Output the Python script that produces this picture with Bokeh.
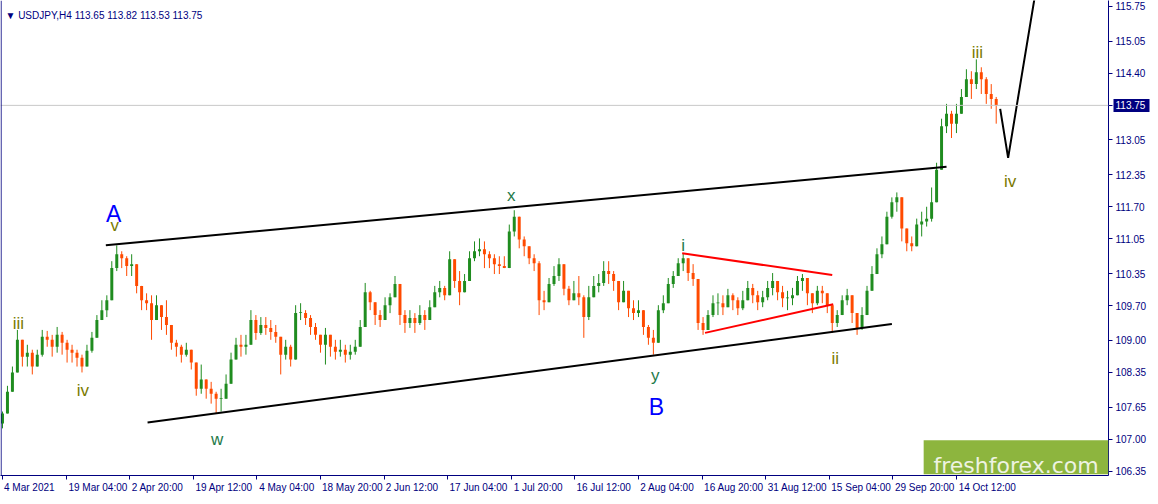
from bokeh.plotting import figure
from bokeh.models import (FixedTicker, Span, Label, BoxAnnotation, ColumnDataSource,
                          PrintfTickFormatter, LinearAxis)
from bokeh.embed import file_html
from bokeh.resources import INLINE

# ---------------- data (USDJPY H4, sampled every 5 bars) ----------------
first_bar = 3
bar_step = 5
first_open = 107.32
closes = [
    107.52, 107.96, 108.35, 109.01, 108.67, 108.75, 108.47, 108.71, 109.07, 109.01,
    108.87, 109.11, 108.95, 108.81, 108.75, 108.65, 108.47, 108.79, 109.05, 109.41,
    109.61, 109.81, 110.46, 110.74, 110.66, 110.50, 110.54, 110.10, 109.81, 109.75,
    109.41, 109.71, 109.47, 109.31, 108.95, 108.87, 108.71, 108.81, 108.55, 108.02,
    108.21, 108.02, 107.92, 107.82, 107.82, 108.12, 108.61, 108.91, 108.87, 108.91,
    109.41, 109.15, 109.31, 109.25, 109.17, 109.07, 108.71, 108.87, 108.61, 109.55,
    109.55, 109.45, 109.27, 109.11, 108.91, 109.11, 108.87, 108.77, 108.81, 108.71,
    108.77, 108.87, 109.27, 109.97, 109.77, 109.51, 109.41, 109.71, 109.87, 110.14,
    109.51, 109.35, 109.45, 109.35, 109.51, 109.41, 109.67, 109.97, 110.06, 109.91,
    110.64, 110.20, 109.97, 110.20, 110.66, 110.80, 110.84, 110.74, 110.66, 110.54,
    110.50, 110.46, 111.20, 111.50, 111.04, 110.90, 110.66, 110.56, 109.81, 109.77,
    110.14, 110.30, 110.54, 110.04, 109.81, 109.95, 109.87, 109.47, 109.87, 110.10,
    110.16, 110.40, 110.34, 110.20, 109.77, 110.00, 109.65, 109.55, 109.61, 109.27,
    109.05, 108.95, 109.61, 109.75, 110.14, 110.30, 110.56, 110.66, 110.36, 110.24,
    109.35, 109.21, 109.51, 109.75, 109.75, 109.67, 109.91, 109.81, 109.65, 109.81,
    110.06, 109.91, 109.77, 109.87, 110.06, 110.20, 109.97, 109.85, 109.85, 109.91,
    110.20, 110.26, 109.95, 109.75, 110.00, 109.95, 109.71, 109.35, 109.51, 109.81,
    109.91, 109.55, 109.25, 109.51, 110.00, 110.34, 110.74, 110.94, 111.50, 111.79,
    111.89, 111.26, 110.96, 110.90, 111.34, 111.40, 111.46, 111.79, 112.45, 113.33,
    113.58, 113.38, 113.58, 113.92, 114.28, 114.18, 114.42, 114.28, 113.98, 113.88,
    113.75,
]
highs = [
    107.56, 108.08, 108.47, 109.21, 109.01, 108.91, 108.81, 108.81, 109.21, 109.19,
    109.11, 109.27, 109.17, 109.01, 108.91, 108.81, 108.71, 108.91, 109.17, 109.51,
    109.81, 109.91, 110.60, 110.92, 110.80, 110.70, 110.74, 110.50, 110.00, 109.95,
    109.91, 109.91, 109.71, 109.81, 109.31, 109.01, 108.91, 108.95, 108.81, 108.51,
    108.51, 108.21, 108.16, 107.96, 108.02, 108.31, 108.75, 109.05, 109.11, 109.11,
    109.61, 109.51, 109.47, 109.47, 109.41, 109.31, 109.01, 109.01, 108.91, 109.71,
    109.75, 109.61, 109.51, 109.35, 109.11, 109.25, 109.11, 109.01, 109.01, 108.91,
    108.91, 109.01, 109.41, 110.16, 110.00, 109.67, 109.61, 109.87, 109.95, 110.30,
    109.91, 109.61, 109.61, 109.55, 109.71, 109.61, 109.81, 110.10, 110.20, 110.10,
    110.80, 110.60, 110.40, 110.34, 110.80, 111.00, 111.06, 111.00, 110.80, 110.74,
    110.70, 110.70, 111.34, 111.63, 111.40, 111.10, 110.90, 110.74, 110.60, 110.00,
    110.26, 110.50, 110.66, 110.50, 110.10, 110.20, 110.30, 109.91, 110.10, 110.30,
    110.34, 110.60, 110.60, 110.40, 110.20, 110.20, 109.91, 109.81, 109.81, 109.55,
    109.31, 109.21, 109.71, 109.91, 110.26, 110.40, 110.66, 110.76, 110.60, 110.54,
    110.10, 109.47, 109.61, 109.91, 109.95, 109.91, 110.04, 109.95, 109.87, 110.00,
    110.20, 110.14, 110.00, 110.00, 110.20, 110.36, 110.20, 110.10, 110.00, 110.06,
    110.30, 110.34, 110.14, 109.95, 110.10, 110.10, 109.91, 109.55, 109.61, 109.91,
    110.04, 109.81, 109.51, 109.67, 110.10, 110.50, 110.86, 111.10, 111.60, 111.89,
    111.99, 111.70, 111.20, 111.10, 111.46, 111.60, 111.70, 112.09, 112.59, 113.48,
    113.78, 113.64, 113.78, 114.08, 114.48, 114.44, 114.68, 114.52, 114.32, 114.18,
    113.92,
]
lows = [
    107.22, 107.68, 108.08, 108.67, 108.47, 108.47, 108.31, 108.47, 108.67, 108.87,
    108.67, 108.75, 108.71, 108.55, 108.55, 108.47, 108.35, 108.47, 108.75, 109.11,
    109.41, 109.47, 109.91, 110.40, 110.46, 110.30, 110.30, 109.95, 109.61, 109.61,
    109.01, 109.41, 109.21, 109.11, 108.81, 108.67, 108.55, 108.67, 108.41, 107.88,
    107.92, 107.82, 107.72, 107.52, 107.56, 107.82, 108.21, 108.61, 108.67, 108.71,
    109.01, 109.01, 109.11, 109.11, 109.01, 108.95, 108.31, 108.61, 108.47, 108.71,
    109.41, 109.31, 109.11, 109.01, 108.75, 108.51, 108.67, 108.61, 108.67, 108.55,
    108.61, 108.71, 109.01, 109.61, 109.61, 109.31, 109.27, 109.47, 109.55, 109.91,
    109.31, 109.15, 109.25, 109.15, 109.31, 109.21, 109.47, 109.71, 109.87, 109.81,
    109.91, 110.06, 109.71, 110.00, 110.30, 110.60, 110.70, 110.46, 110.46, 110.34,
    110.34, 110.46, 110.46, 111.10, 110.86, 110.70, 110.54, 110.40, 109.51, 109.61,
    109.91, 110.10, 110.20, 109.91, 109.71, 109.81, 109.71, 109.05, 109.41, 109.91,
    109.97, 110.10, 110.14, 110.00, 109.61, 109.81, 109.47, 109.41, 109.47, 109.11,
    108.91, 108.71, 109.01, 109.55, 109.87, 110.06, 110.34, 110.40, 110.20, 110.10,
    109.21, 109.11, 109.21, 109.47, 109.51, 109.51, 109.67, 109.61, 109.51, 109.61,
    109.81, 109.75, 109.61, 109.67, 109.81, 109.91, 109.81, 109.67, 109.61, 109.71,
    109.95, 110.00, 109.71, 109.55, 109.71, 109.75, 109.55, 109.15, 109.27, 109.55,
    109.71, 109.35, 109.11, 109.21, 109.71, 110.10, 110.46, 110.66, 111.10, 111.46,
    111.60, 111.00, 110.80, 110.80, 110.90, 111.10, 111.30, 111.40, 111.89, 112.59,
    113.19, 113.09, 113.19, 113.64, 113.98, 113.88, 114.08, 113.98, 113.78, 113.68,
    113.38,
]

x_tick_bars = [3, 67, 131, 195, 259, 323, 387, 451, 515, 579, 643, 707, 771, 835, 899, 963]
x_tick_labels = ["4 Mar 2021", "19 Mar 04:00", "2 Apr 20:00", "19 Apr 12:00", "4 May 04:00",
                 "18 May 20:00", "2 Jun 12:00", "17 Jun 04:00", "1 Jul 20:00", "16 Jul 12:00",
                 "2 Aug 04:00", "16 Aug 20:00", "31 Aug 12:00", "15 Sep 04:00",
                 "29 Sep 20:00", "14 Oct 12:00"]
y_ticks = [106.35, 107.00, 107.65, 108.35, 109.00, 109.70, 110.35, 111.05,
           111.70, 112.35, 113.05, 113.75, 114.40, 115.05, 115.75]
last_price = 113.75
title_text = "\u25BC USDJPY,H4  113.65 113.82 113.53 113.75"

# trend lines (bar, price)
upper_channel_x = [107, 953]
upper_channel_y = [110.92, 112.51]
lower_channel_x = [149, 898]
lower_channel_y = [107.34, 109.33]
tri_upper_x = [687, 838]
tri_upper_y = [110.76, 110.32]
tri_lower_x = [710, 839]
tri_lower_y = [109.15, 109.73]
proj_x = [1007, 1015, 1042]
proj_y = [113.68, 112.69, 115.97]

# wave labels
wave_text = ["A", "v", "iii", "iv", "w", "x", "y", "B", "i", "ii", "iii", "iv"]
wave_bar = [115, 116, 19, 84, 219, 515, 660, 661, 688, 841, 984, 1017]
wave_price = [111.56, 111.32, 109.33, 107.98, 107.00, 111.93, 108.28, 107.66, 110.92, 108.63, 114.82, 112.21]
wave_kind = ["big", "olive", "olive", "olive", "green", "green", "green", "big", "green", "olive", "olive", "olive"]

# ---------------- figure ----------------
NAVY = "#000080"
FONT = "Liberation Sans"
UP = "#1f8c1f"
DOWN = "#ff4a00"
Y0, Y1 = 106.267, 115.87
X0, X1 = 1, 1116
FRAME_W = 1108

p = figure(width=1150, height=496, x_range=(X0, X1), y_range=(Y0, Y1),
           y_axis_location="right", output_backend="svg", toolbar_location=None,
           min_border_left=0, min_border_top=0, min_border_right=42, min_border_bottom=21)
p.outline_line_color = None
p.background_fill_color = "white"
p.border_fill_color = "white"
p.xgrid.visible = False
p.ygrid.visible = False

opens = [first_open] + closes[:-1]
xs = [first_bar + bar_step * i for i in range(len(closes))]
body_top, body_bot, hi, lo, col = [], [], [], [], []
for o, c, h, l in zip(opens, closes, highs, lows):
    t, b = max(o, c), min(o, c)
    if t - b < 0.015:
        t = b + 0.015
    body_top.append(t)
    body_bot.append(b)
    hi.append(max(h, t))
    lo.append(min(l, b))
    col.append(UP if c >= o else DOWN)
src = ColumnDataSource(dict(x=xs, top=body_top, bottom=body_bot, hi=hi, lo=lo, color=col))

p.add_layout(Span(location=last_price, dimension="width", line_color="#c8c8c8", line_width=1))
p.segment(x0="x", y0="hi", x1="x", y1="lo", color="color", line_width=1, source=src)
p.vbar(x="x", width=3.0, top="top", bottom="bottom", fill_color="color", line_color=None, source=src)

p.line(upper_channel_x, upper_channel_y, line_color="black", line_width=2)
p.line(lower_channel_x, lower_channel_y, line_color="black", line_width=2)
p.line(tri_upper_x, tri_upper_y, line_color="#ff0000", line_width=2)
p.line(tri_lower_x, tri_lower_y, line_color="#ff0000", line_width=2)
p.line(proj_x, proj_y, line_color="black", line_width=2)

styles = {"big": ("#0000ff", "23px"), "olive": ("#7a7a00", "17px"), "green": ("#1f7a4a", "17px")}
for t, bx, pr, k in zip(wave_text, wave_bar, wave_price, wave_kind):
    c, s = styles[k]
    p.add_layout(Label(x=bx, y=pr, text=t, text_color=c, text_font_size=s, text_font=FONT,
                       text_align="center", text_baseline="alphabetic"))

# left border
p.add_layout(Span(location=1.6, dimension="height", line_color=NAVY, line_width=1))

# watermark
p.add_layout(BoxAnnotation(left=930, right=X1, bottom=106.29, top=106.98,
                           fill_color="#8db53e", fill_alpha=1.0, line_color=None))
p.add_layout(Label(x=1023, y=106.47, text="freshforex.com", text_color="#eef3e2",
                   text_font_size="22px", text_font="DejaVu Sans", text_align="center",
                   text_baseline="alphabetic"))

# title
p.add_layout(Label(x=6, y=115.57, text=title_text, text_color=NAVY, text_font_size="10px",
                   text_font=FONT, text_baseline="alphabetic"))

# ---- price axis ----
p.yaxis.ticker = FixedTicker(ticks=y_ticks)
p.yaxis.formatter = PrintfTickFormatter(format="%.2f")
p.yaxis.axis_line_color = NAVY
p.yaxis.major_tick_line_color = NAVY
p.yaxis.minor_tick_line_color = None
p.yaxis.major_tick_out = 4
p.yaxis.major_tick_in = 0
p.yaxis.major_label_text_color = NAVY
p.yaxis.major_label_text_font = FONT
p.yaxis.major_label_text_font_size = "10px"
p.yaxis.major_label_standoff = 3

# current price tag: a second price axis with one thick tick drawn back over the scale
tag_axis = LinearAxis(ticker=FixedTicker(ticks=[last_price]),
                      formatter=PrintfTickFormatter(format="%.2f"),
                      axis_line_color=None, minor_tick_line_color=None,
                      major_tick_in=36, major_tick_out=0,
                      major_tick_line_color=NAVY, major_tick_line_width=13,
                      major_label_text_color="white", major_label_text_font=FONT,
                      major_label_text_font_size="10px", major_label_standoff=-34)
p.add_layout(tag_axis, "right")

# ---- time axis ----
# MetaTrader puts each time label to the right of its tick: the visible tick marks are
# the minor ticks (true times); the labels sit on invisible major ticks at the text centres.
char_w = {"0": 556, "1": 556, "2": 556, "3": 556, "4": 556, "5": 556, "6": 556, "7": 556,
          "8": 556, "9": 556, " ": 278, ":": 278, "M": 833, "a": 556, "r": 333, "A": 667,
          "p": 556, "y": 500, "J": 500, "u": 556, "n": 556, "l": 222, "g": 556, "S": 667,
          "e": 556, "O": 778, "c": 500, "t": 278}
px_per_bar = FRAME_W / (X1 - X0)
label_centres = []
for b, l in zip(x_tick_bars, x_tick_labels):
    w = sum(char_w.get(ch, 556) for ch in l) / 1000.0 * 10.0
    label_centres.append(int(round(b + (2 + w / 2.0) / px_per_bar)))
p.xaxis.ticker = FixedTicker(ticks=label_centres, minor_ticks=x_tick_bars)
p.xaxis.major_label_overrides = {c: l for c, l in zip(label_centres, x_tick_labels)}
p.xaxis.axis_line_color = NAVY
p.xaxis.major_tick_line_color = None
p.xaxis.major_tick_out = 4
p.xaxis.major_tick_in = 0
p.xaxis.minor_tick_line_color = NAVY
p.xaxis.minor_tick_out = 4
p.xaxis.minor_tick_in = 0
p.xaxis.major_label_text_color = NAVY
p.xaxis.major_label_text_font = FONT
p.xaxis.major_label_text_font_size = "10px"
p.xaxis.major_label_standoff = 2

open("out.html", "w").write(file_html(p, INLINE))
